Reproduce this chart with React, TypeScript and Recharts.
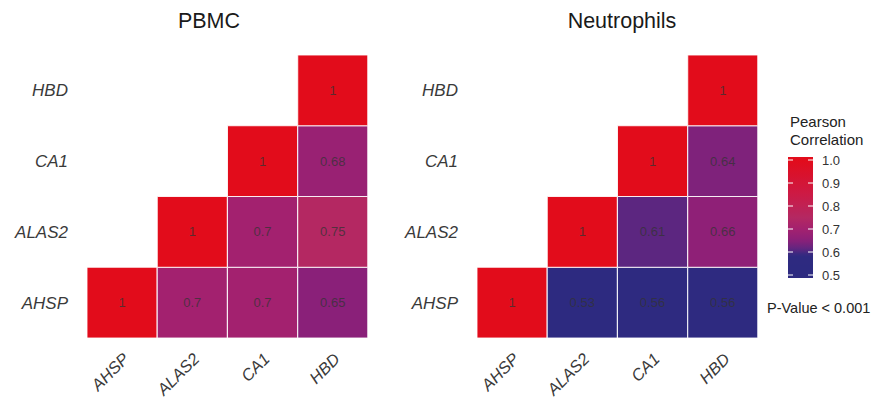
import React from 'react';
import { BarChart, Bar, XAxis, YAxis, Cell, LabelList } from 'recharts';

const genes = ['AHSP', 'ALAS2', 'CA1', 'HBD'];

// rows of the lower triangle, columns in the order of `genes`
const pbmcAHSP = [1, 0.7, 0.7, 0.65];
const pbmcALAS2 = [null, 1, 0.7, 0.75];
const pbmcCA1 = [null, null, 1, 0.68];
const pbmcHBD = [null, null, null, 1];

const neutAHSP = [1, 0.53, 0.56, 0.56];
const neutALAS2 = [null, 1, 0.61, 0.66];
const neutCA1 = [null, null, 1, 0.64];
const neutHBD = [null, null, null, 1];

const legendTicks = [0.5, 0.6, 0.7, 0.8, 0.9, 1.0];

const FONT = '"Liberation Sans", Arial, sans-serif';

// colour ramp of the fill scale
const stops: [number, number[]][] = [
  [0.5, [45, 42, 128]],
  [0.585, [46, 42, 128]],
  [0.61, [92, 38, 128]],
  [0.65, [138, 32, 121]],
  [0.7, [163, 33, 111]],
  [0.75, [180, 40, 98]],
  [0.85, [204, 26, 69]],
  [1.0, [226, 12, 27]],
];

const colorFor = (v: number) => {
  const x = Math.max(0.5, Math.min(1, v));
  for (let i = 1; i < stops.length; i++) {
    const [v0, c0] = stops[i - 1];
    const [v1, c1] = stops[i];
    if (x <= v1) {
      const t = (x - v0) / (v1 - v0);
      const c = c0.map((a, k) => Math.round(a + (c1[k] - a) * t));
      return `rgb(${c[0]},${c[1]},${c[2]})`;
    }
  }
  return 'rgb(226,12,27)';
};

const buildTable = (rows: (number | null)[][]) =>
  genes.map((g, j) => {
    const o: any = { gene: g };
    genes.forEach((r, i) => {
      o[r] = 1;
      o['r_' + r] = rows[i][j];
    });
    return o;
  });

const fmt = (v: number) => (v === 1 ? '1' : String(v));

const CellLabel = (props: any) => {
  const { x, y, width, height, value } = props;
  if (value === null || value === undefined) return null;
  return (
    <text x={x + width / 2} y={y + height / 2} dy={4.5} textAnchor="middle" fontFamily={FONT}
      fontSize={13} fill="#333" fillOpacity={0.75}>
      {fmt(value)}
    </text>
  );
};

const XTick = (props: any) => {
  const { x, y, payload } = props;
  return (
    <g transform={`translate(${x + 8},${y + 22})`}>
      <text textAnchor="end" transform="rotate(-45)" fontFamily={FONT} fontStyle="italic"
        fontSize={16.5} fill="#3a3a3a">
        {payload.value}
      </text>
    </g>
  );
};

const YTick = (props: any) => {
  const { x, y, payload } = props;
  return (
    <text x={x - 19} y={y} dy={6} textAnchor="end" fontFamily={FONT} fontStyle="italic"
      fontSize={17} fill="#3a3a3a">
      {genes[Math.floor(payload.value)]}
    </text>
  );
};

const Heatmap = ({ rows, left }: { rows: (number | null)[][]; left: number }) => {
  const data = buildTable(rows);
  return (
    <div style={{ position: 'absolute', left, top: 0 }}>
      <BarChart width={380} height={400} data={data} barCategoryGap={0} barGap={0}
        margin={{ top: 55, right: 12, bottom: 0, left: 0 }}>
        <XAxis dataKey="gene" height={62} axisLine={false} tickLine={false} tickSize={0}
          tickMargin={0} interval={0} tick={<XTick />} />
        <YAxis type="number" domain={[0, 4]} ticks={[0.5, 1.5, 2.5, 3.5]} width={87}
          axisLine={false} tickLine={false} tickSize={0} tickMargin={0} tick={<YTick />} />
        {genes.map((r) => (
          <Bar key={r} dataKey={r} stackId="s" isAnimationActive={false}>
            {data.map((d, k) => {
              const v = d['r_' + r];
              return v === null ? (
                <Cell key={k} fill="none" stroke="none" />
              ) : (
                <Cell key={k} fill={colorFor(v)} stroke="#fff" strokeOpacity={0.85} strokeWidth={1} />
              );
            })}
            <LabelList dataKey={'r_' + r} content={<CellLabel />} />
          </Bar>
        ))}
      </BarChart>
    </div>
  );
};

// colour bar geometry
const BAR_X = 788;
const BAR_W = 25;
const BAR_TOP = 157;
const BAR_BOTTOM = 278;
const V_TOP_Y = 160; // y of 1.0
const V_BOT_Y = 275; // y of 0.5
const yOf = (v: number) => V_BOT_Y - ((v - 0.5) / 0.5) * (V_BOT_Y - V_TOP_Y);
const vOf = (y: number) => 0.5 + ((V_BOT_Y - y) / (V_BOT_Y - V_TOP_Y)) * 0.5;

const Overlay = () => {
  const gradStops = [];
  for (let i = 0; i <= 40; i++) {
    const yy = BAR_TOP + ((BAR_BOTTOM - BAR_TOP) * i) / 40;
    gradStops.push(<stop key={i} offset={`${(i / 40) * 100}%`} stopColor={colorFor(vOf(yy))} />);
  }
  return (
    <svg width={874} height={400} style={{ position: 'absolute', left: 0, top: 0, pointerEvents: 'none' }}>
      <defs>
        <linearGradient id="pearson" x1="0" y1="0" x2="0" y2="1">
          {gradStops}
        </linearGradient>
      </defs>
      <text x={209} y={28} textAnchor="middle" fontFamily={FONT} fontSize={21.5} fill="#1a1a1a">PBMC</text>
      <text x={622} y={28} textAnchor="middle" fontFamily={FONT} fontSize={21.5} fill="#1a1a1a">Neutrophils</text>

      <text x={790} y={127} fontFamily={FONT} fontSize={15} fill="#222">Pearson</text>
      <text x={790} y={145} fontFamily={FONT} fontSize={15} fill="#222">Correlation</text>
      <rect x={BAR_X} y={BAR_TOP} width={BAR_W} height={BAR_BOTTOM - BAR_TOP} fill="url(#pearson)" />
      {legendTicks.map((t) => (
        <g key={t}>
          <line x1={BAR_X} x2={BAR_X + 5} y1={yOf(t)} y2={yOf(t)} stroke="#fff" strokeWidth={1} />
          <line x1={BAR_X + BAR_W - 5} x2={BAR_X + BAR_W} y1={yOf(t)} y2={yOf(t)} stroke="#fff" strokeWidth={1} />
          <text x={822} y={yOf(t)} dy={4.5} fontFamily={FONT} fontSize={13} fill="#333">{t.toFixed(1)}</text>
        </g>
      ))}
      <text x={767} y={313} fontFamily={FONT} fontSize={14.5} fill="#222">P-Value &lt; 0.001</text>
    </svg>
  );
};

export default function App() {
  return (
    <div style={{ position: 'absolute', left: 0, top: 0, width: 874, height: 400, background: '#fff' }}>
      <Heatmap rows={[pbmcAHSP, pbmcALAS2, pbmcCA1, pbmcHBD]} left={0} />
      <Heatmap rows={[neutAHSP, neutALAS2, neutCA1, neutHBD]} left={390} />
      <Overlay />
    </div>
  );
}
